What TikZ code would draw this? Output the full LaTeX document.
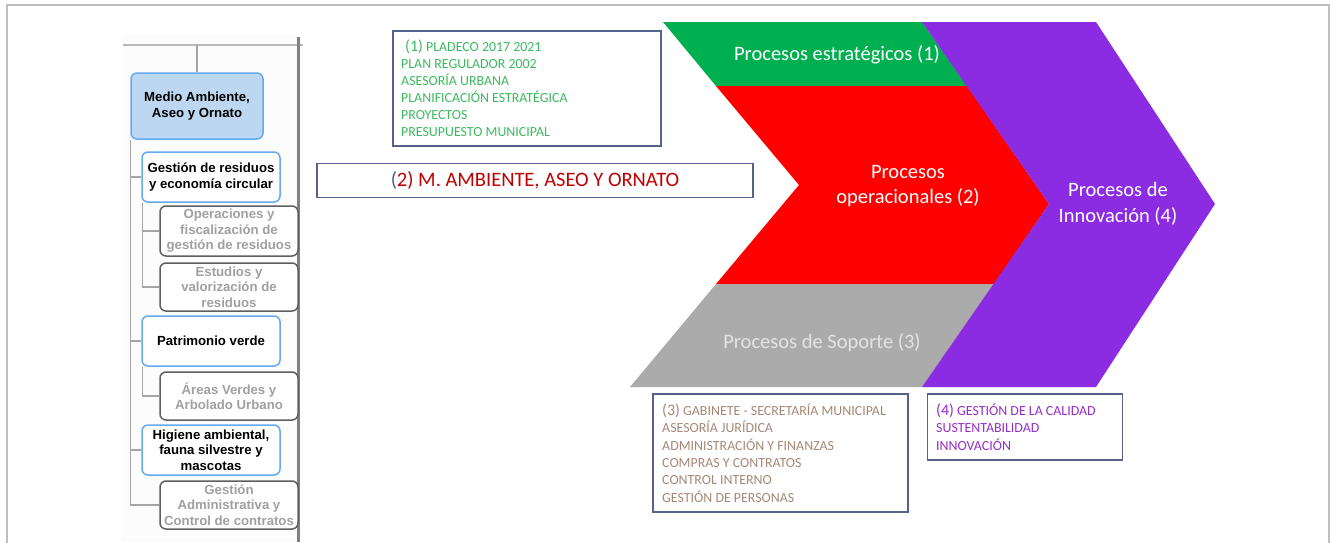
\documentclass[tikz,border=0pt]{standalone}
\usepackage{fontspec}
\setmainfont{Carlito}
\newfontfamily\arialf{Liberation Sans}
\definecolor{framegray}{RGB}{191,191,191}
\definecolor{pgreen}{RGB}{0,176,80}
\definecolor{pred}{RGB}{255,0,0}
\definecolor{pgray}{RGB}{171,171,171}
\definecolor{ppurple}{RGB}{139,43,226}
\definecolor{soptext}{RGB}{228,228,228}
\definecolor{boxborder}{RGB}{85,98,140}
\definecolor{txtgreen}{RGB}{60,185,95}
\definecolor{txtbrown}{RGB}{165,135,120}
\definecolor{txtpurple}{RGB}{150,45,200}
\definecolor{txtred}{RGB}{192,0,0}
\definecolor{txtblue}{RGB}{70,90,150}
\definecolor{mafill}{RGB}{189,215,240}
\definecolor{blueborder}{RGB}{100,170,240}
\definecolor{darkborder}{RGB}{95,95,95}
\definecolor{graytext}{RGB}{160,160,160}
\definecolor{connc}{RGB}{165,165,165}
\definecolor{trunkc}{RGB}{128,128,128}
\tikzset{
  procfont/.style={font=\fontsize{20.5}{25.5}\selectfont, text=white, align=center, inner sep=0},
  listbox/.style={draw=boxborder, line width=1.3pt, inner sep=0},
  listline/.style={anchor=base west, inner sep=0, font=\fontsize{13.9}{17}\selectfont},
  orgbase/.style={rounded corners=6pt, line width=1.5pt, inner sep=0, align=center,
     font=\arialf\bfseries\fontsize{13.2}{15.5}\selectfont},
  bluebox/.style={orgbase, draw=blueborder, fill=white, text=black},
  graybox/.style={orgbase, draw=darkborder, fill=white, text=graytext},
  conn/.style={draw=connc, line width=1.5pt},
}
\begin{document}
\begin{tikzpicture}[x=1pt,y=-1pt]
\useasboundingbox (0,0) rectangle (1330,542);
% outer frame
\draw[framegray, line width=2.5pt] (7,546) -- (7,5) -- (1329,5) -- (1329,546);

% ---------- left org chart ----------
\fill[black!1] (122,35) rectangle (298,542);
\draw[draw=connc!80, line width=2pt] (123,45) -- (303,45);
\draw[draw=trunkc, line width=3pt] (298,37) -- (298,542);

\node[bluebox, fill=mafill, minimum width=132, minimum height=66] (ma) at (197,106) {Medio Ambiente,\\Aseo y Ornato};
\node[bluebox, minimum width=138, minimum height=50] (gr) at (211,177) {Gestión de residuos\\y economía circular};
\node[graybox, minimum width=138, minimum height=50] (ops) at (229,231) {Operaciones y\\fiscalización de\\gestión de residuos};
\node[graybox, minimum width=138, minimum height=48] (est) at (229,287) {Estudios y\\valorización de\\residuos};
\node[bluebox, minimum width=138, minimum height=50] (pv) at (211,341) {Patrimonio verde};
\node[graybox, minimum width=138, minimum height=48] (av) at (229,396) {Áreas Verdes y\\Arbolado Urbano};
\node[bluebox, minimum width=138, minimum height=50] (hig) at (211,450) {Higiene ambiental,\\fauna silvestre y\\mascotas};
\node[graybox, minimum width=138, minimum height=48] (gad) at (229,505) {Gestión\\Administrativa y\\Control de contratos};

\coordinate (topc) at (197,45);
\draw[conn] (topc) -- (ma.north);
\draw[conn] (ma.south west) |- (gad.west);
\draw[conn] (ma.south west |- gr.west) -- (gr.west);
\draw[conn] (ma.south west |- pv.west) -- (pv.west);
\draw[conn] (ma.south west |- hig.west) -- (hig.west);
\draw[conn] ([xshift=1pt]gr.south west) |- (est.west);
\draw[conn] ([xshift=1pt]gr.south west |- ops.west) -- (ops.west);
\draw[conn] ([xshift=1pt]pv.south west) |- (av.west);

% ---------- process chevrons ----------
\fill[pgreen] (663,22) -- (922,22) -- (967,86) -- (716,86) -- cycle;
\fill[pred] (716,86) -- (967,86) -- (1049,204) -- (994,284) -- (716,284) -- (799,185) -- cycle;
\fill[pgray] (716,284) -- (994,284) -- (922,387) -- (630,387) -- cycle;
\fill[ppurple] (922,22) -- (1096,22) -- (1215,204) -- (1096,387) -- (922,387) -- (1049,204) -- cycle;

\node[procfont] (pe) at (837,55) {Procesos estratégicos (1)};
\node[procfont] (po) at (908,186) {Procesos\\operacionales (2)};
\node[procfont] (pi) at (1118,204) {Procesos de\\Innovación (4)};
\node[procfont, text=soptext] (ps) at (822,343) {Procesos de Soporte (3)};

% ---------- list boxes ----------
\node[listbox, minimum width=268, minimum height=115] (b1) at (527,88.5) {};
\node[listline, text=txtgreen] (b1a) at (405,51) {{\fontsize{16}{17}\selectfont(1)} PLADECO 2017 2021};
\node[listline, text=txtgreen] (b1b) at (401,68) {PLAN REGULADOR 2002};
\node[listline, text=txtgreen] (b1c) at (401,85) {ASESORÍA URBANA};
\node[listline, text=txtgreen] (b1d) at (401,102.5) {PLANIFICACIÓN ESTRATÉGICA};
\node[listline, text=txtgreen] (b1e) at (401,119.5) {PROYECTOS};
\node[listline, text=txtgreen] (b1f) at (401,136.5) {PRESUPUESTO MUNICIPAL};

\node[listbox, minimum width=436, minimum height=34, font=\fontsize{20.5}{24}\selectfont, text=txtred] (b2) at (535,180.5) {\textcolor{txtblue}{(}2) M. AMBIENTE, ASEO Y ORNATO};

\node[listbox, minimum width=255, minimum height=118] (b3) at (780.5,453) {};
\node[listline, text=txtbrown] (b3a) at (662,415) {{\fontsize{16}{17}\selectfont(3)} GABINETE - SECRETARÍA MUNICIPAL};
\node[listline, text=txtbrown] (b3b) at (662,432.5) {ASESORÍA JURÍDICA};
\node[listline, text=txtbrown] (b3c) at (662,450) {ADMINISTRACIÓN Y FINANZAS};
\node[listline, text=txtbrown] (b3d) at (662,467) {COMPRAS Y CONTRATOS};
\node[listline, text=txtbrown] (b3e) at (662,484.5) {CONTROL INTERNO};
\node[listline, text=txtbrown] (b3f) at (662,502) {GESTIÓN DE PERSONAS};

\node[listbox, minimum width=195, minimum height=66] (b4) at (1025,427) {};
\node[listline, text=txtpurple] (b4a) at (936,415) {{\fontsize{16}{17}\selectfont(4)} GESTIÓN DE LA CALIDAD};
\node[listline, text=txtpurple] (b4b) at (936,432.5) {SUSTENTABILIDAD};
\node[listline, text=txtpurple] (b4c) at (936,450) {INNOVACIÓN};
\end{tikzpicture}
\end{document}
